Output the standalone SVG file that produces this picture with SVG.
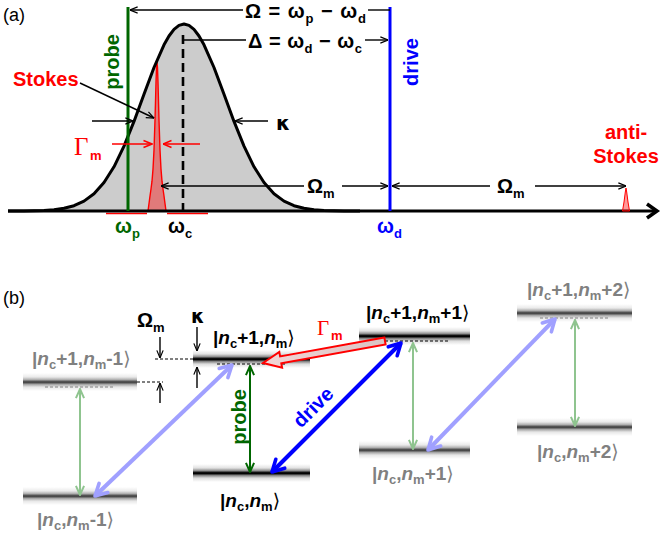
<svg xmlns="http://www.w3.org/2000/svg" width="664" height="536" viewBox="0 0 664 536">
<defs>
<style>
.t{font-family:"Liberation Sans","DejaVu Sans",sans-serif;font-weight:bold;font-size:20px}
.lb{font-family:"Liberation Sans","DejaVu Sans",sans-serif;font-weight:bold;font-size:19px}
.kap{font-family:"DejaVu Sans",sans-serif;font-weight:bold}
.s{font-size:13px}
.it{font-style:italic}
.br{font-weight:normal}
.pl{font-family:"Liberation Sans","DejaVu Sans",sans-serif;font-size:18px}
.gs{font-family:"Liberation Serif","DejaVu Serif",serif;fill:#ff0000}
.k{stroke:#000;stroke-width:1.4;fill:none}
.rd{stroke:#ff0000;stroke-width:1.5;fill:none}
.dsh{stroke:#000;stroke-width:1;stroke-dasharray:3 2;fill:none}
.gdsh{stroke:#808080;stroke-width:1;stroke-dasharray:3 2;fill:none}
.lev{fill:url(#lv)}
.fade{opacity:0.72}
.gray{fill:#808080}
</style>
<linearGradient id="lv" x1="0" y1="0" x2="0" y2="1">
<stop offset="0" stop-color="#fff"/>
<stop offset="0.22" stop-color="#e2e2e2"/>
<stop offset="0.38" stop-color="#8a8a8a"/>
<stop offset="0.46" stop-color="#111"/>
<stop offset="0.54" stop-color="#000"/>
<stop offset="0.62" stop-color="#7a7a7a"/>
<stop offset="0.78" stop-color="#dedede"/>
<stop offset="1" stop-color="#fff"/>
</linearGradient>
<linearGradient id="gm" x1="0" y1="0" x2="1" y2="0">
<stop offset="0" stop-color="#f2d6d6"/>
<stop offset="1" stop-color="#d9c4c4"/>
</linearGradient>
<marker id="mk" viewBox="0 0 10 10" refX="9.5" refY="5" markerWidth="9" markerHeight="9" markerUnits="userSpaceOnUse" orient="auto-start-reverse"><path d="M1,1.5 L9.5,5 L1,8.5" fill="none" stroke="#000" stroke-width="1.3"/></marker>
<marker id="mr" viewBox="0 0 10 10" refX="9.5" refY="5" markerWidth="10" markerHeight="10" markerUnits="userSpaceOnUse" orient="auto-start-reverse"><path d="M1,1.5 L9.5,5 L1,8.5" fill="none" stroke="#ff0000" stroke-width="1.5"/></marker>
<marker id="mg" viewBox="0 0 10 10" refX="9.3" refY="5" markerWidth="11" markerHeight="11" markerUnits="userSpaceOnUse" orient="auto-start-reverse"><path d="M1,1.3 L9.3,5 L1,8.7" fill="none" stroke="#006600" stroke-width="1.8"/></marker>
<marker id="mlg" viewBox="0 0 10 10" refX="9.3" refY="5" markerWidth="11" markerHeight="11" markerUnits="userSpaceOnUse" orient="auto-start-reverse"><path d="M1,1.3 L9.3,5 L1,8.7" fill="none" stroke="#8fc48f" stroke-width="1.8"/></marker>
<marker id="mb" viewBox="0 0 20 20" refX="17" refY="10" markerWidth="18" markerHeight="18" markerUnits="userSpaceOnUse" orient="auto-start-reverse"><path d="M4,3 L17,10 L4,17" fill="none" stroke="#0000ff" stroke-width="4" stroke-linejoin="round" stroke-linecap="round"/></marker>
<marker id="mlb" viewBox="0 0 20 20" refX="17" refY="10" markerWidth="18" markerHeight="18" markerUnits="userSpaceOnUse" orient="auto-start-reverse"><path d="M4,3 L17,10 L4,17" fill="none" stroke="#a0a0ff" stroke-width="4" stroke-linejoin="round" stroke-linecap="round"/></marker>
</defs>
<rect width="664" height="536" fill="#fff"/>

<!-- ============ panel (a) ============ -->
<g id="panel-a">
<text class="pl" x="3" y="21">(a)</text>
<g id="cavity">
<path d="M8,211 L24,211 L44,210.4 L54,209.7 L64,208.3 L74,205.7 L84,201.1 L94,193.7 L104,182.5 L114,166.8 L124,146.1 L134,121.4 L144,94.2 L154,67.5 L164,44.8 L169,36 L174,29.4 L179,25.4 L184,24 L189,25.4 L194,29.4 L199,36 L204,44.8 L214,67.5 L224,94.2 L234,121.4 L244,146.1 L254,166.8 L264,182.5 L274,193.7 L284,201.1 L294,205.7 L304,208.3 L314,209.7 L324,210.4 L344,210.9 L360,211 Z" fill="#cccccc" stroke="none"/>
<line x1="183" y1="35" x2="183" y2="211" stroke="#000" stroke-width="2.6" stroke-dasharray="9 5"/>
</g>
<g id="stokes-peak">
<path d="M148,211 L150,196 L151,189 L152,181.2 L153,169.1 L154,150 L155,120.1 L155.5,101.4 L156,82.6 L156.5,67.7 L157,62 L157.5,67.7 L158,82.6 L158.5,101.4 L159,120.1 L160,150 L161,169.1 L162,181.2 L163,189 L164,196 L166,211 Z" fill="#ff0000" fill-opacity="0.4" stroke="#ff0000" stroke-width="1.4"/>
<line x1="106" y1="213.5" x2="147" y2="213.5" stroke="#ff0000" stroke-width="1.5"/>
<line x1="167" y1="213.5" x2="208" y2="213.5" stroke="#ff0000" stroke-width="1.5"/>
</g>
<path id="cavity-line" d="M8,211 L24,211 L44,210.4 L54,209.7 L64,208.3 L74,205.7 L84,201.1 L94,193.7 L104,182.5 L114,166.8 L124,146.1 L134,121.4 L144,94.2 L154,67.5 L164,44.8 L169,36 L174,29.4 L179,25.4 L184,24 L189,25.4 L194,29.4 L199,36 L204,44.8 L214,67.5 L224,94.2 L234,121.4 L244,146.1 L254,166.8 L264,182.5 L274,193.7 L284,201.1 L294,205.7 L304,208.3 L314,209.7 L324,210.4 L344,210.9 L360,211" fill="none" stroke="#000" stroke-width="3" stroke-linejoin="round"/>
<g id="axis">
<line x1="8" y1="211" x2="657" y2="211" stroke="#000" stroke-width="3"/>
<polyline points="647,204 657,211 647,218" fill="none" stroke="#000" stroke-width="3.5"/>
</g>
<g id="antistokes-peak">
<path d="M622.5,211 L624,202 L625.3,192 L626,188 L626.7,192 L628,202 L629.5,211 Z" fill="#ff0000" fill-opacity="0.4" stroke="#ff0000" stroke-width="1"/>
</g>
<g id="probe-line">
<line x1="128" y1="7" x2="128" y2="211" stroke="#006600" stroke-width="3"/>
<text class="t" transform="translate(112,62) rotate(-90)" y="7" text-anchor="middle" fill="#006600">probe</text>
</g>
<g id="drive-line">
<line x1="390" y1="7" x2="390" y2="211" stroke="#0000ff" stroke-width="3"/>
<text class="t" transform="translate(411,62) rotate(-90)" y="7" text-anchor="middle" fill="#0000ff">drive</text>
</g>
<g id="a-connectors">
<line class="k" x1="243" y1="10" x2="130" y2="10" marker-end="url(#mk)"/>
<line class="k" x1="368" y1="10" x2="390" y2="10"/>
<line class="k" x1="183" y1="40" x2="246" y2="40"/>
<line class="k" x1="365" y1="40" x2="388" y2="40" marker-end="url(#mk)"/>
<line class="k" x1="92" y1="121" x2="133" y2="121" marker-end="url(#mk)"/>
<line class="k" x1="268" y1="121" x2="235" y2="121" marker-end="url(#mk)"/>
<line class="k" x1="80" y1="83" x2="154" y2="118" marker-end="url(#mk)"/>
<line class="rd" x1="112" y1="144" x2="152" y2="144" marker-end="url(#mr)"/>
<line class="rd" x1="200" y1="144" x2="163" y2="144" marker-end="url(#mr)"/>
<line class="k" x1="304" y1="186" x2="161" y2="186" marker-end="url(#mk)"/>
<line class="k" x1="342" y1="186" x2="388" y2="186" marker-end="url(#mk)"/>
<line class="k" x1="490" y1="186" x2="392" y2="186" marker-end="url(#mk)"/>
<line class="k" x1="535" y1="186" x2="626" y2="186" marker-end="url(#mk)"/>
</g>
<g id="a-labels">
<text class="t" x="245" y="18" textLength="121">Ω = ω<tspan class="s" dy="5">p</tspan><tspan dy="-5"> − ω</tspan><tspan class="s" dy="5">d</tspan></text>
<text class="t" x="248" y="48" textLength="114">Δ = ω<tspan class="s" dy="5">d</tspan><tspan dy="-5"> − ω</tspan><tspan class="s" dy="5">c</tspan></text>
<text class="t" x="13" y="86" fill="#ff0000">Stokes</text>
<text class="kap" x="276" y="130" font-size="20">κ</text>
<text class="gs" x="74" y="155" font-size="25">Γ</text>
<text class="t s" x="90" y="160" fill="#ff0000">m</text>
<text class="t" x="307" y="193">Ω<tspan class="s" dy="5">m</tspan></text>
<text class="t" x="497" y="193">Ω<tspan class="s" dy="5">m</tspan></text>
<text class="t" x="626" y="139" text-anchor="middle" fill="#ff0000">anti-</text>
<text class="t" x="626" y="163" text-anchor="middle" fill="#ff0000">Stokes</text>
<text class="t" x="115" y="233" fill="#006600">ω<tspan class="s" dy="5">p</tspan></text>
<text class="t" x="168" y="233">ω<tspan class="s" dy="5">c</tspan></text>
<text class="t" x="377" y="233" fill="#0000ff">ω<tspan class="s" dy="5">d</tspan></text>
</g>
</g>

<!-- ============ panel (b) ============ -->
<text class="pl" x="3" y="304">(b)</text>

<g id="state-nc1-nm-1">
<rect class="lev fade" x="23" y="373" width="114" height="18"/>
<line class="gdsh" x1="45" y1="387" x2="115" y2="387"/>
<text class="lb gray" x="32" y="365">|<tspan class="it">n</tspan><tspan class="s" dy="4">c</tspan><tspan dy="-4">+1,</tspan><tspan class="it">n</tspan><tspan class="s" dy="4">m</tspan><tspan dy="-4">-1</tspan><tspan class="br">⟩</tspan></text>
</g>
<g id="state-nc-nm-1">
<rect class="lev fade" x="23" y="487" width="114" height="18"/>
<text class="lb gray" x="37" y="526">|<tspan class="it">n</tspan><tspan class="s" dy="4">c</tspan><tspan dy="-4">,</tspan><tspan class="it">n</tspan><tspan class="s" dy="4">m</tspan><tspan dy="-4">-1</tspan><tspan class="br">⟩</tspan></text>
</g>

<g id="state-nc1-nm">
<rect class="lev" x="193" y="350" width="117" height="18"/>
<line class="dsh" x1="217" y1="364" x2="287" y2="364"/>
<text class="lb" x="213" y="344">|<tspan class="it">n</tspan><tspan class="s" dy="4">c</tspan><tspan dy="-4">+1,</tspan><tspan class="it">n</tspan><tspan class="s" dy="4">m</tspan><tspan class="br" dy="-4">⟩</tspan></text>
</g>
<g id="state-nc-nm">
<rect class="lev" x="193" y="464" width="117" height="18"/>
<text class="lb" x="220" y="507">|<tspan class="it">n</tspan><tspan class="s" dy="4">c</tspan><tspan dy="-4">,</tspan><tspan class="it">n</tspan><tspan class="s" dy="4">m</tspan><tspan class="br" dy="-4">⟩</tspan></text>
</g>

<g id="state-nc1-nm1">
<rect class="lev" x="359" y="327" width="111" height="18"/>
<line class="dsh" x1="385" y1="341" x2="448" y2="341"/>
<text class="lb" x="366" y="319">|<tspan class="it">n</tspan><tspan class="s" dy="4">c</tspan><tspan dy="-4">+1,</tspan><tspan class="it">n</tspan><tspan class="s" dy="4">m</tspan><tspan dy="-4">+1</tspan><tspan class="br">⟩</tspan></text>
</g>
<g id="state-nc-nm1">
<rect class="lev fade" x="359" y="441" width="111" height="18"/>
<text class="lb gray" x="372" y="480">|<tspan class="it">n</tspan><tspan class="s" dy="4">c</tspan><tspan dy="-4">,</tspan><tspan class="it">n</tspan><tspan class="s" dy="4">m</tspan><tspan dy="-4">+1</tspan><tspan class="br">⟩</tspan></text>
</g>

<g id="state-nc1-nm2">
<rect class="lev fade" x="517" y="304" width="115" height="18"/>
<line class="gdsh" x1="540" y1="318" x2="608" y2="318"/>
<text class="lb gray" x="527" y="296">|<tspan class="it">n</tspan><tspan class="s" dy="4">c</tspan><tspan dy="-4">+1,</tspan><tspan class="it">n</tspan><tspan class="s" dy="4">m</tspan><tspan dy="-4">+2</tspan><tspan class="br">⟩</tspan></text>
</g>
<g id="state-nc-nm2">
<rect class="lev fade" x="517" y="418" width="115" height="18"/>
<text class="lb gray" x="537" y="458">|<tspan class="it">n</tspan><tspan class="s" dy="4">c</tspan><tspan dy="-4">,</tspan><tspan class="it">n</tspan><tspan class="s" dy="4">m</tspan><tspan dy="-4">+2</tspan><tspan class="br">⟩</tspan></text>
</g>

<g id="b-connectors">
<line x1="80" y1="389" x2="80" y2="495" stroke="#8fc48f" stroke-width="2" marker-start="url(#mlg)" marker-end="url(#mlg)"/>
<line x1="250" y1="366" x2="250" y2="472" stroke="#006600" stroke-width="2" marker-start="url(#mg)" marker-end="url(#mg)"/>
<line x1="413" y1="343" x2="413" y2="449" stroke="#8fc48f" stroke-width="2" marker-start="url(#mlg)" marker-end="url(#mlg)"/>
<line x1="575" y1="320" x2="575" y2="426" stroke="#8fc48f" stroke-width="2" marker-start="url(#mlg)" marker-end="url(#mlg)"/>
<line x1="95" y1="496" x2="232" y2="365" stroke="#a0a0ff" stroke-width="4" marker-start="url(#mlb)" marker-end="url(#mlb)"/>
<line x1="428" y1="450" x2="555" y2="319" stroke="#a0a0ff" stroke-width="4" marker-start="url(#mlb)" marker-end="url(#mlb)"/>
<line x1="272" y1="472" x2="401" y2="343" stroke="#0000ff" stroke-width="4" marker-start="url(#mb)" marker-end="url(#mb)"/>
<polygon id="gamma-arrow" points="384.4,337.6 280.1,356.4 279.3,351.9 263,363 282.1,367.7 281.3,363.2 385.6,344.4" fill="url(#gm)" stroke="#ff0000" stroke-width="2" stroke-linejoin="miter"/>
<line class="k" x1="160" y1="337" x2="160" y2="358" marker-end="url(#mk)"/>
<line class="k" x1="160" y1="403" x2="160" y2="383" marker-end="url(#mk)"/>
<line class="dsh" x1="155" y1="359" x2="193" y2="359"/>
<line class="dsh" x1="137" y1="382" x2="163" y2="382"/>
<line class="k" x1="197" y1="327" x2="197" y2="351" marker-end="url(#mk)"/>
<line class="k" x1="197" y1="388" x2="197" y2="367" marker-end="url(#mk)"/>
</g>
<g id="b-labels">
<text class="t" transform="translate(239,417) rotate(-90)" y="7" text-anchor="middle" fill="#006600">probe</text>
<text class="t" transform="translate(313,407) rotate(-45)" y="7" text-anchor="middle" fill="#0000ff">drive</text>
<text class="gs" x="317" y="335" font-size="21">Γ</text>
<text class="t s" x="331" y="340" fill="#ff0000">m</text>
<text class="t" x="137" y="327" font-size="21">Ω<tspan class="s" dy="5">m</tspan></text>
<text class="kap" x="191" y="323" font-size="19">κ</text>
</g>
</svg>
